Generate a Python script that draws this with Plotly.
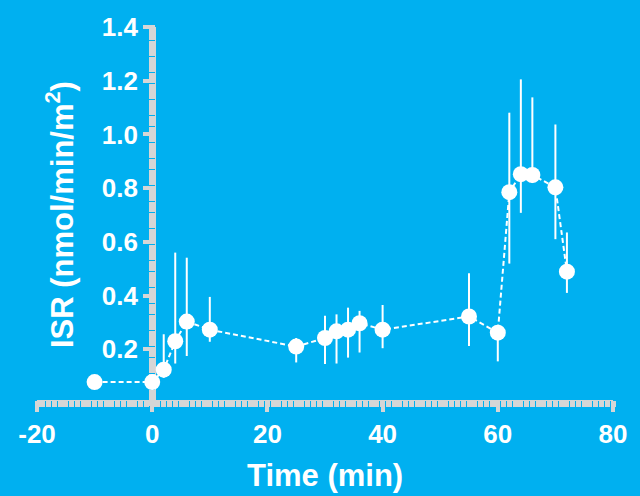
import plotly.graph_objects as go

time_min = [-10, 0, 2, 4, 6, 10, 25, 30, 32, 34, 36, 40, 55, 60, 62, 64, 66, 70, 72]
isr = [0.078, 0.078, 0.124, 0.23, 0.303, 0.273, 0.21, 0.242, 0.267, 0.273, 0.297, 0.273,
       0.322, 0.262, 0.785, 0.852, 0.849, 0.803, 0.489]
err_up = [0, 0, 0.132, 0.33, 0.238, 0.122, 0.032, 0.083, 0.063, 0.082, 0.046, 0.092,
          0.161, 0.025, 0.296, 0.353, 0.289, 0.234, 0.146]
err_down = [0, 0, 0.03, 0.083, 0.128, 0.045, 0.059, 0.097, 0.12, 0.104, 0.109, 0.069,
            0.11, 0.107, 0.266, 0.144, 0.03, 0.193, 0.079]

x_ticks = [-20, 0, 20, 40, 60, 80]
y_ticks = [0.2, 0.4, 0.6, 0.8, 1.0, 1.2, 1.4]
y_tick_labels = ["0.2", "0.4", "0.6", "0.8", "1.0", "1.2", "1.4"]

BG = "#00B0F0"
AX = "#D6D6D6"
FONT = "Liberation Sans"

W_PLOT = 640 - 37 - 27
H_PLOT = 496 - 20 - 93

fig = go.Figure()
fig.add_trace(go.Scatter(
    x=time_min, y=isr, mode="lines+markers",
    line=dict(color="white", width=2, dash="5px,3px"),
    marker=dict(color="white", size=16, line=dict(width=0)),
    error_y=dict(type="data", symmetric=False, array=err_up, arrayminus=err_down,
                 color="white", thickness=2, width=0),
    cliponaxis=False, showlegend=False,
))

# the thick segmented axis bars are built from closely spaced minor ticks
fig.update_layout(
    width=640, height=496,
    margin=dict(l=37, r=27, t=20, b=93),
    paper_bgcolor=BG, plot_bgcolor=BG,
    font=dict(family=FONT, color="white"),
    xaxis=dict(
        range=[-20, 80], showgrid=False, zeroline=False,
        anchor="free", position=3 / H_PLOT,
        showline=True, linecolor=AX, linewidth=1,
        ticks="outside", ticklen=11, tickwidth=4, tickcolor=AX,
        tickvals=x_ticks, ticktext=[str(v) for v in x_ticks],
        tickfont=dict(family=FONT, size=26, color="white", weight="bold"),
        minor=dict(dtick=1, tick0=0, ticks="outside", ticklen=6, tickwidth=5.0, tickcolor=AX),
        layer="below traces",
    ),
    yaxis=dict(
        range=[0, 1.4], showgrid=False, zeroline=False,
        anchor="free", position=0.2 + 3 / W_PLOT,
        showline=True, linecolor=AX, linewidth=1,
        ticks="outside", ticklen=12, tickwidth=4, tickcolor=AX,
        tickvals=y_ticks, ticktext=y_tick_labels,
        tickfont=dict(family=FONT, size=26, color="white", weight="bold"),
        minor=dict(dtick=0.02, tick0=0, ticks="outside", ticklen=6, tickwidth=4.8, tickcolor=AX),
        layer="below traces",
    ),
    annotations=[
        dict(text="<b>Time (min)</b>", xref="paper", yref="paper", x=0.5, y=-0.193,
             xanchor="center", yanchor="middle", showarrow=False,
             font=dict(family=FONT, size=31, color="white")),
        dict(text="<b>ISR (nmol/min/m<sup>2</sup>)</b>", xref="paper", yref="paper",
             x=0.04, y=0.5, xanchor="center", yanchor="middle", textangle=-90,
             showarrow=False, font=dict(family=FONT, size=31, color="white")),
    ],
)

fig.write_html("out.html")
